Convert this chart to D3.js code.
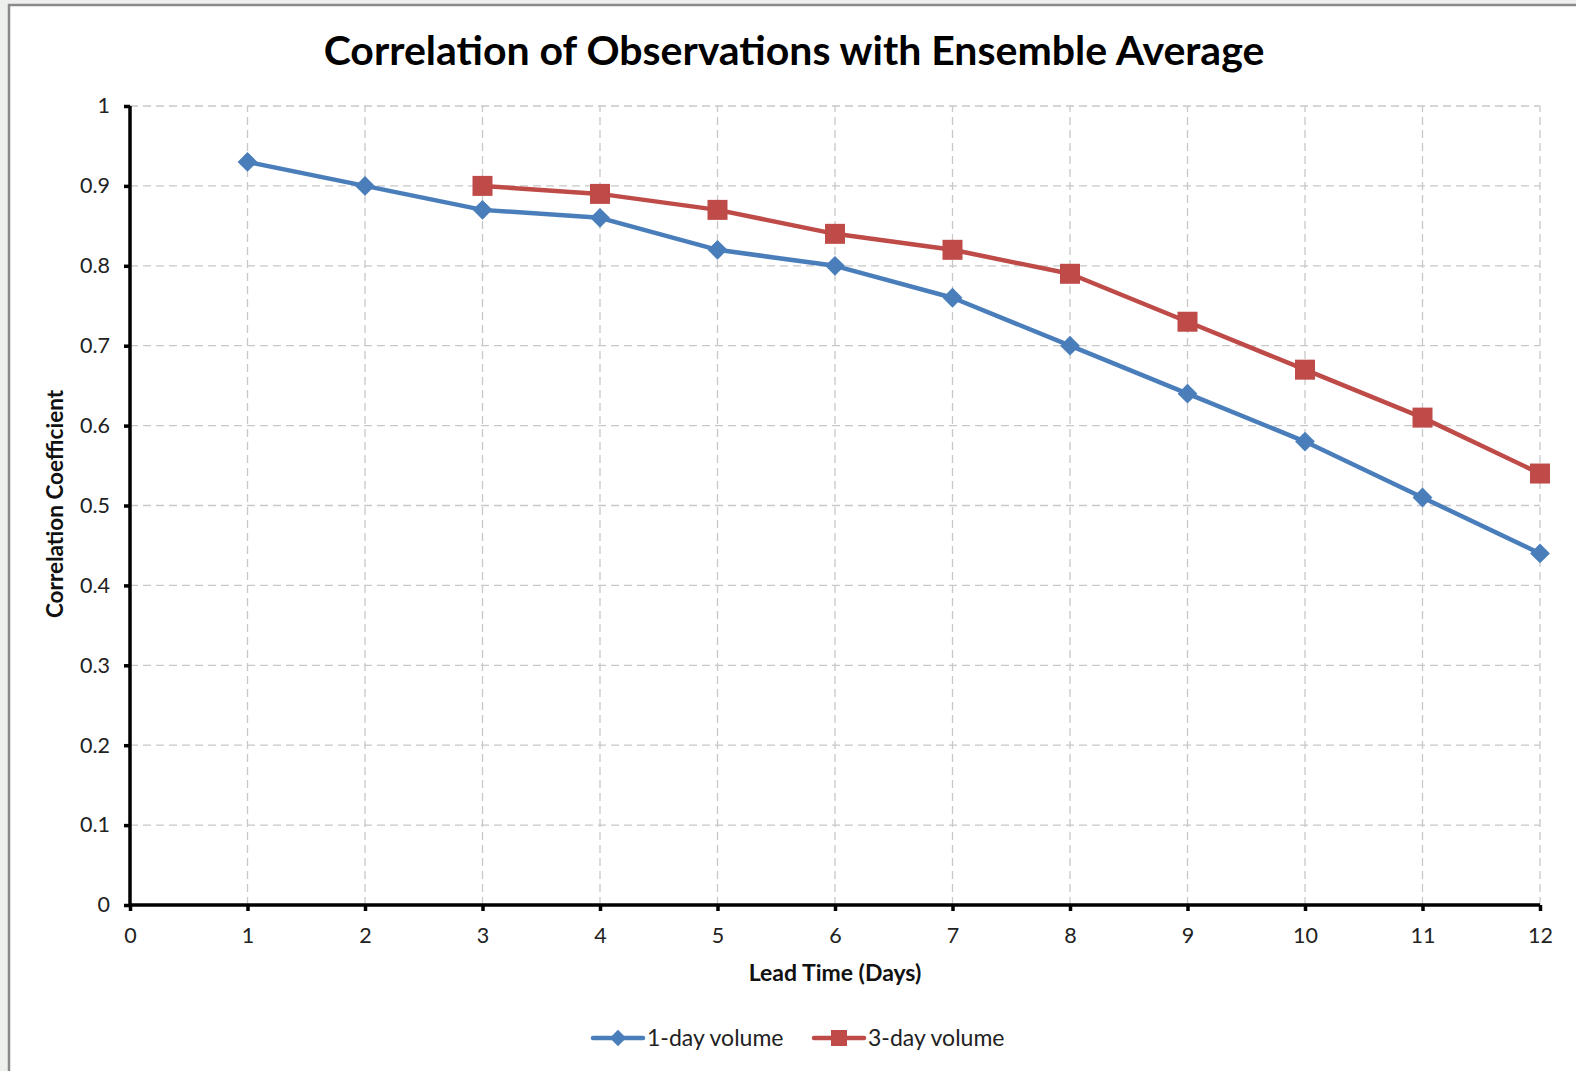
<!DOCTYPE html>
<html><head><meta charset="utf-8">
<script src="https://cdn.jsdelivr.net/npm/d3@7"></script>
<style>
html,body{margin:0;padding:0;background:#eef0ee;}
svg{display:block;}
text{font-family:Lato,"Open Sans",sans-serif;}
</style></head>
<body>
<svg id="c" width="1576" height="1071"></svg>
<script>
const title = "Correlation of Observations with Ensemble Average";
const xTitle = "Lead Time (Days)";
const yTitle = "Correlation Coefficient";
const xTicks = [0,1,2,3,4,5,6,7,8,9,10,11,12];
const yTicks = [0,0.1,0.2,0.3,0.4,0.5,0.6,0.7,0.8,0.9,1];
const days1 = [1,2,3,4,5,6,7,8,9,10,11,12];
const vol1 = [0.93,0.90,0.87,0.86,0.82,0.80,0.76,0.70,0.64,0.58,0.51,0.44];
const days3 = [3,4,5,6,7,8,9,10,11,12];
const vol3 = [0.90,0.89,0.87,0.84,0.82,0.79,0.73,0.67,0.61,0.54];
const seriesNames = ["1-day volume","3-day volume"];
const colors = ["#4A7EBB","#BE4B48"];

const svg = d3.select("#c");
svg.append("rect").attr("x",9).attr("y",5).attr("width",1576).attr("height",1080)
  .attr("fill","#fff").attr("stroke","#8a8a8a").attr("stroke-width",2.5);

const x = d3.scaleLinear().domain([0,12]).range([130,1540]);
const y = d3.scaleLinear().domain([0,1]).range([905,106]);

const g = svg.append("g");
g.selectAll(".hg").data(yTicks.filter(d=>d>0)).enter().append("line")
  .attr("x1",x(0)).attr("x2",x(12)).attr("y1",d=>y(d)).attr("y2",d=>y(d))
  .attr("stroke","#c8c8c8").attr("stroke-width",1.3).attr("stroke-dasharray","8,5");
g.selectAll(".vg").data(xTicks.filter(d=>d>0)).enter().append("line")
  .attr("x1",d=>x(d)).attr("x2",d=>x(d)).attr("y1",y(0)).attr("y2",y(1))
  .attr("stroke","#c8c8c8").attr("stroke-width",1.3).attr("stroke-dasharray","8,5");

const xAxis = d3.axisBottom(x).tickValues(xTicks).tickSize(6).tickPadding(17).tickFormat(d3.format("d"));
const yAxis = d3.axisLeft(y).tickValues(yTicks).tickSize(6).tickPadding(14).tickFormat(d=>d3.format("")(d));
const gx = svg.append("g").attr("transform",`translate(0,${y(0)})`).call(xAxis);
const gy = svg.append("g").attr("transform",`translate(${x(0)},0)`).call(yAxis);
[gx,gy].forEach(a=>{
  a.select(".domain").attr("stroke","#000").attr("stroke-width",3.5);
  a.selectAll(".tick line").attr("stroke","#000").attr("stroke-width",3.5);
  a.selectAll(".tick text").attr("fill","#222").style("font-size","21.5px").style("font-family","Lato,sans-serif");
});
gx.select(".domain").attr("d",`M${x(0)},0H${x(12)}`);
gy.select(".domain").attr("d",`M0,${y(0)}V${y(1)}`);

const line = d3.line().x(d=>x(d[0])).y(d=>y(d[1]));
const s1 = days1.map((d,i)=>[d,vol1[i]]);
const s3 = days3.map((d,i)=>[d,vol3[i]]);
svg.append("path").datum(s1).attr("d",line).attr("fill","none").attr("stroke",colors[0]).attr("stroke-width",4.5).attr("stroke-linejoin","round");
svg.append("path").datum(s3).attr("d",line).attr("fill","none").attr("stroke",colors[1]).attr("stroke-width",4.5).attr("stroke-linejoin","round");
const diamond = d3.symbol().type(d3.symbolDiamond2).size(250);
svg.selectAll(".m1").data(s1).enter().append("path").attr("d",diamond)
  .attr("transform",d=>`translate(${x(d[0])},${y(d[1])})`).attr("fill",colors[0]);
svg.selectAll(".m3").data(s3).enter().append("rect")
  .attr("x",d=>x(d[0])-10).attr("y",d=>y(d[1])-10).attr("width",20).attr("height",20)
  .attr("fill",colors[1]);

svg.append("text").attr("x",794).attr("y",65).attr("text-anchor","middle")
  .style("font-size","41px").style("font-weight","bold").attr("fill","#000").text(title);
svg.append("text").attr("x",835).attr("y",981).attr("text-anchor","middle")
  .style("font-size","23px").style("font-weight","bold").attr("fill","#111").text(xTitle);
svg.append("text").attr("transform","translate(63,504) rotate(-90)").attr("text-anchor","middle")
  .style("font-size","22.5px").style("font-weight","bold").attr("fill","#111").text(yTitle);

const leg = [{x:593, name:seriesNames[0], c:colors[0], t:"d"},{x:814, name:seriesNames[1], c:colors[1], t:"s"}];
leg.forEach(l=>{
  const gg = svg.append("g");
  gg.append("line").attr("x1",l.x).attr("x2",l.x+50).attr("y1",1038).attr("y2",1038).attr("stroke",l.c).attr("stroke-width",4.5).attr("stroke-linecap","round");
  if(l.t==="d") gg.append("path").attr("d",d3.symbol().type(d3.symbolDiamond2).size(170)).attr("transform",`translate(${l.x+25},1038)`).attr("fill",l.c);
  else gg.append("rect").attr("x",l.x+17).attr("y",1030).attr("width",16).attr("height",16).attr("fill",l.c);
  gg.append("text").attr("x",l.x+54).attr("y",1046).style("font-size","23px").attr("fill","#222").text(l.name);
});
</script>
</body></html>
